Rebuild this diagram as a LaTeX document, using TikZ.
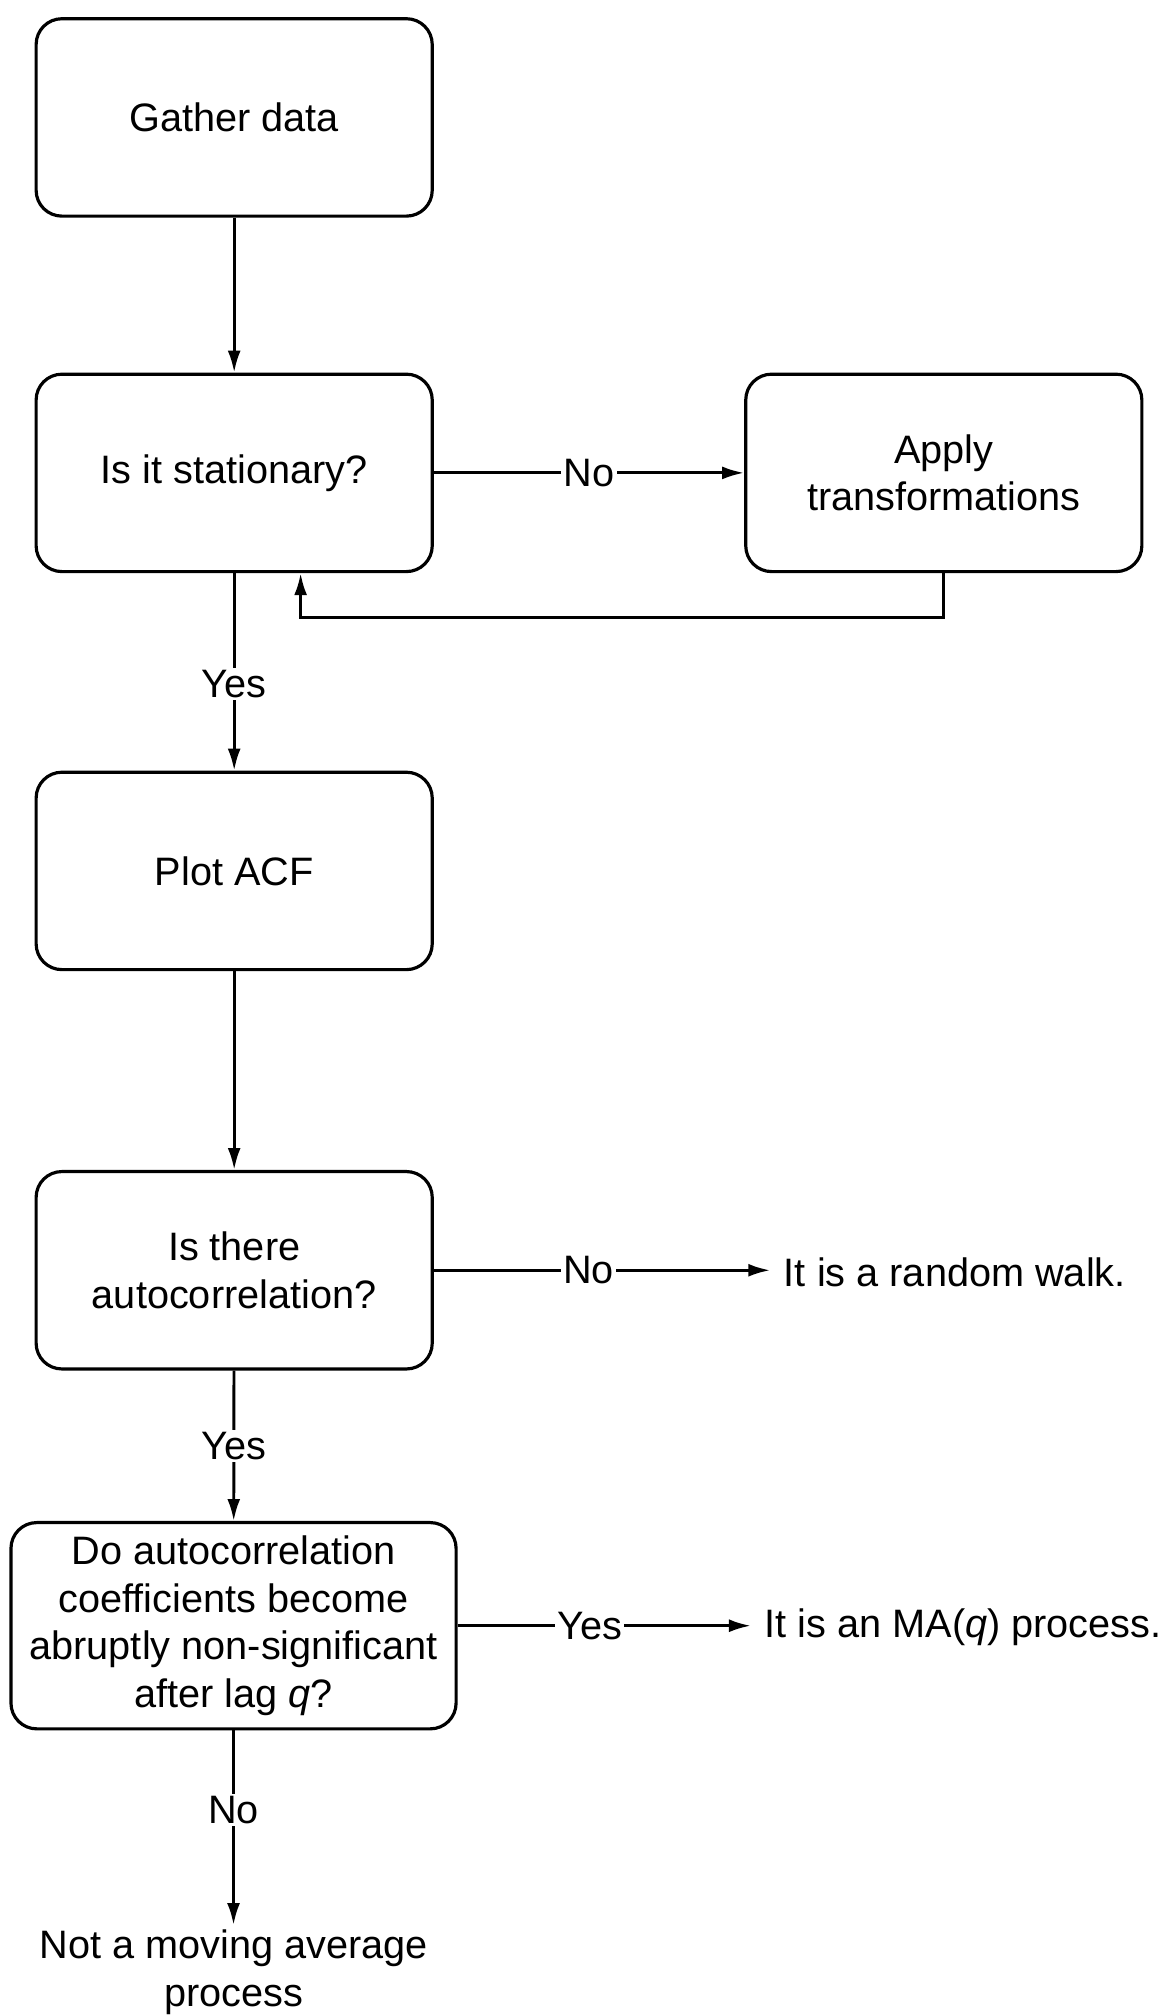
\documentclass[tikz,border=0pt]{standalone}
\usepackage{fontspec}
\setmainfont{Liberation Sans}
\usetikzlibrary{arrows.meta}
\begin{document}
\fontsize{17.5}{21}\selectfont
\begin{tikzpicture}[
  box/.style={draw, line width=1.4pt, rounded corners=0.4cm, minimum width=6.14cm, minimum height=3.06cm, align=center},
  arr/.style={-{Latex[length=3.4mm,width=2mm]}, line width=1.3pt},
  lbl/.style={fill=white, inner sep=1pt}
]
  \useasboundingbox (0,0) rectangle (18.2,-31.25);

  % Main column
  \node[box] (gather) at (3.63, -1.82) {Gather data};
  \node[box] (stat) at (3.63, -7.33) {Is it stationary?};
  \node[box] (apply) at (14.63, -7.33) {Apply\\transformations};
  \node[box] (acf) at (3.63, -13.5) {Plot ACF};
  \node[box] (auto) at (3.63, -19.69) {Is there\\autocorrelation?};
  \node[box, minimum width=6.9cm, minimum height=3.1cm] (coef) at (3.62, -25.2)
    {Do autocorrelation\\coefficients become\\abruptly non-significant\\after lag \textit{q}?};

  % Outcomes
  \node[anchor=west] (walk) at (11.94, -19.72) {It is a random walk.};
  \node[anchor=west] (ma) at (11.64, -25.22) {It is an MA(\textit{q}) process.};
  \node[anchor=north, align=center, inner sep=2pt] (notma) at (3.62, -29.84) {Not a moving average\\process};

  % Connectors
  \draw[arr] (gather) -- (stat);
  \draw[arr] (stat) -- node[lbl] {No} (apply);
  \draw[arr] (apply.south) -- ++(0,-0.68) -| ([xshift=1.03cm]stat.south);
  \draw[arr] (stat) -- node[lbl, pos=0.56] {Yes} (acf);
  \draw[arr] (acf) -- (auto);
  \draw[arr] (auto.east) -- node[lbl, pos=0.46] {No} (auto.east -| walk.west);
  \draw[arr] (auto) -- node[lbl] {Yes} (coef);
  \draw[arr] (coef.east) -- node[lbl, pos=0.45] {Yes} (coef.east -| ma.west);
  \draw[arr] (coef) -- node[lbl, pos=0.41] {No} (notma);
\end{tikzpicture}
\end{document}
